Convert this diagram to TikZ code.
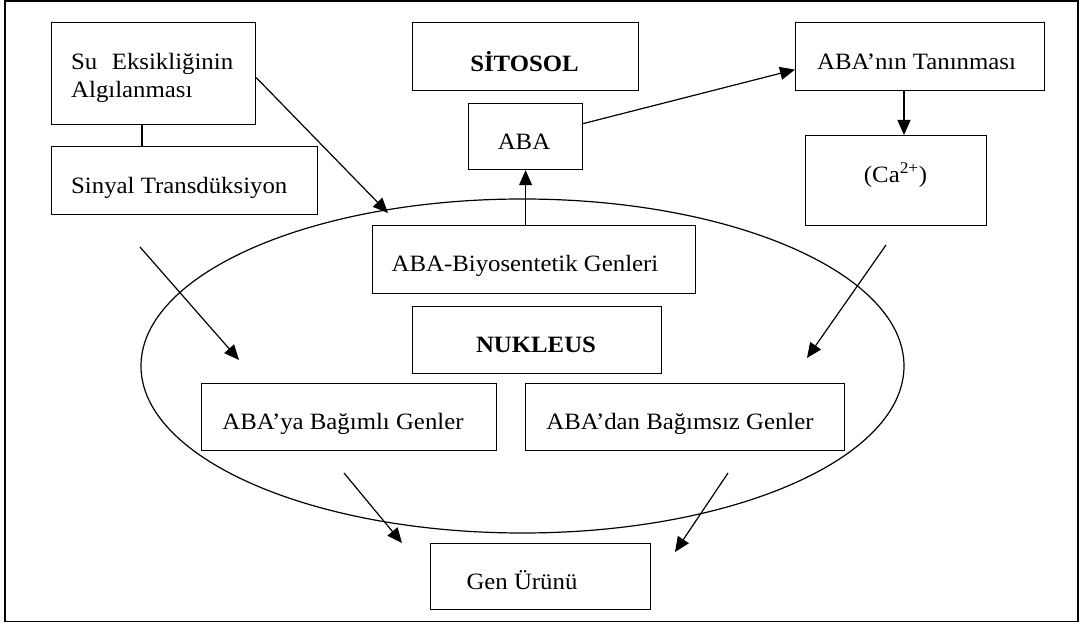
\documentclass[tikz,border=0pt]{standalone}
\usepackage{fontspec}
\setmainfont{Liberation Serif}[FakeStretch=1.06]
\usetikzlibrary{arrows.meta,calc,shapes.geometric}
\tikzset{
  box/.style={draw, line width=1.2pt, inner sep=0pt, anchor=north west},
  txt/.style={inner sep=0pt, font=\fontsize{23.4}{28}\selectfont},
  arr/.style={line width=1.2pt, -{Triangle[length=15pt,width=13pt]}},
  conn/.style={line width=1.2pt},
}
\begin{document}
\begin{tikzpicture}[x=1pt, y=1pt]
\useasboundingbox (0,0) rectangle (1080,624);
\draw[line width=1.6pt] (5,623.2) rectangle (1078,2.6);
% nucleus ellipse
\node[draw, line width=1.2pt, ellipse, inner sep=0pt, minimum width=763pt, minimum height=334pt] (nuc) at (522.5,258) {};
% boxes
\node[box, minimum width=204pt, minimum height=102pt] (su) at (51,602) {};
\node[box, minimum width=266pt, minimum height=68pt] (sin) at (51,478) {};
\node[box, minimum width=226pt, minimum height=68pt] (sit) at (412,602) {};
\node[box, minimum width=114pt, minimum height=66pt] (aba) at (468,521) {};
\node[box, minimum width=249pt, minimum height=68pt] (tan) at (795,602) {};
\node[box, minimum width=181pt, minimum height=90pt] (ca) at (805,489) {};
\node[box, minimum width=323pt, minimum height=68pt] (bio) at (372,399) {};
\node[box, minimum width=249pt, minimum height=67pt] (nuk) at (412,318) {};
\node[box, minimum width=295pt, minimum height=67pt] (dep) at (201,241) {};
\node[box, minimum width=319pt, minimum height=67pt] (ind) at (525,241) {};
\node[box, minimum width=220pt, minimum height=66pt] (gen) at (430,81) {};
% texts
\node[txt, anchor=base west, align=left] (sut) at (71,526) {Su\hspace{0.62em}Eksikliğinin\\Algılanması};
\node[txt, anchor=base west] (sint) at (71,430) {Sinyal Transdüksiyon};
\node[txt, anchor=base] (sitt) at (524.5,552) {\textbf{SİTOSOL}};
\node[txt, anchor=base] (abat) at (524,474) {ABA};
\node[txt, anchor=base] (tant) at (916.5,554) {ABA’nın Tanınması};
\node[txt, anchor=base] (cat) at (895.5,441) {(Ca\textsuperscript{2+})};
\node[txt, anchor=base] (biot) at (525,352) {ABA-Biyosentetik Genleri};
\node[txt, anchor=base] (nukt) at (536,271) {\textbf{NUKLEUS}};
\node[txt, anchor=base] (dept) at (343,194) {ABA’ya Bağımlı Genler};
\node[txt, anchor=base] (indt) at (680,194) {ABA’dan Bağımsız Genler};
\node[txt, anchor=base] (gent) at (522,34) {Gen Ürünü};
% free ends and attachment points
\coordinate (t1) at (388,411);
\coordinate (s5) at (140,377);
\coordinate (t5) at (239,264);
\coordinate (s6) at (886,379);
\coordinate (t6) at (807,266);
\coordinate (s7) at (344,151);
\coordinate (t7) at (402,81);
\coordinate (s8) at (728,151);
\coordinate (t8) at (675,72);
\coordinate (tc) at ($(tan.south west)+(109,0)$);
\coordinate (sc) at ($(su.south west)+(91,0)$);
% connectors
\draw[conn] (sc) -- (sc |- sin.north);
\draw[arr] ($(su.east)+(0,-4)$) -- (t1);
\draw[arr] (bio.north -| aba.south) -- (aba.south);
\draw[arr] ($(aba.east)+(0,13)$) -- ($(tan.west)+(0,-13)$);
\draw[arr] (tc) -- (tc |- ca.north);
\draw[arr] (s5) -- (t5);
\draw[arr] (s6) -- (t6);
\draw[arr] (s7) -- (t7);
\draw[arr] (s8) -- (t8);
\end{tikzpicture}
\end{document}
